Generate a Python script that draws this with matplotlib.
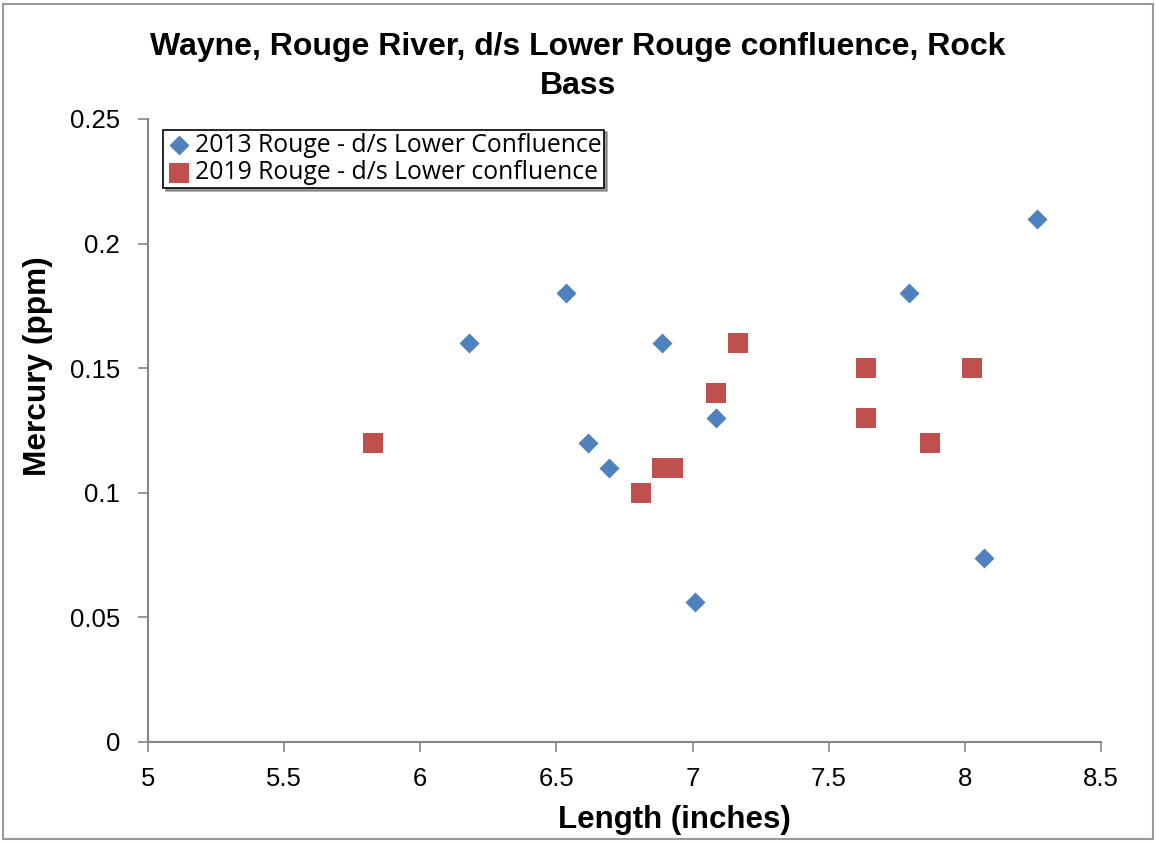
import matplotlib
matplotlib.use("Agg")
import matplotlib.pyplot as plt
from matplotlib.ticker import FuncFormatter
from matplotlib.patches import Rectangle

# data
len_2013 = [6.18, 6.535, 6.616, 6.693, 6.888, 7.009, 7.086, 7.795, 8.265, 8.07]
hg_2013 = [0.16, 0.18, 0.12, 0.11, 0.16, 0.056, 0.13, 0.18, 0.21, 0.074]

len_2019 = [5.826, 6.81, 6.888, 6.93, 7.086, 7.167, 7.637, 7.637, 7.872, 8.026]
hg_2019 = [0.12, 0.10, 0.11, 0.11, 0.14, 0.16, 0.15, 0.13, 0.12, 0.15]

label_2013 = "2013 Rouge - d/s Lower Confluence"
label_2019 = "2019 Rouge - d/s Lower confluence"
title = "Wayne, Rouge River, d/s Lower Rouge confluence, Rock\nBass"

plt.rcParams['font.family'] = ['Liberation Sans', 'DejaVu Sans']

fig = plt.figure(figsize=(11.56, 8.42), dpi=100)
ax = fig.add_axes([0.128, 0.1188, 0.8244, 0.7399])

ax.scatter(len_2013, hg_2013, marker='D', s=10.2**2, color='#4F81BD',
           linewidths=0, label=label_2013, zorder=3)
ax.scatter(len_2019, hg_2019, marker='s', s=14.4**2, color='#C0504D',
           linewidths=0, label=label_2019, zorder=3)

ax.set_xlim(5, 8.5)
ax.set_ylim(0, 0.25)
ax.set_xticks([5, 5.5, 6, 6.5, 7, 7.5, 8, 8.5])
ax.set_yticks([0, 0.05, 0.1, 0.15, 0.2, 0.25])
fmt = FuncFormatter(lambda v, p: "%g" % v)
ax.xaxis.set_major_formatter(fmt)
ax.yaxis.set_major_formatter(fmt)

for side in ['top', 'right']:
    ax.spines[side].set_visible(False)
for side in ['left', 'bottom']:
    ax.spines[side].set_color('#868686')
    ax.spines[side].set_linewidth(1.5)
ax.tick_params(direction='out', length=7, width=1.2, color='#868686',
               labelsize=18.5)
ax.tick_params(axis='x', pad=11)
ax.tick_params(axis='y', pad=13)

# Excel puts the axis titles a bit off-centre
ax.set_xlabel("Length (inches)", fontsize=22.5, fontweight='bold', labelpad=10, x=0.552)
ax.set_ylabel("Mercury (ppm)", fontsize=22.8, fontweight='bold', labelpad=12, y=0.6035)
fig.text(0.5, 0.962, title, ha='center', va='top', fontsize=23,
         fontweight='bold', linespacing=1.38)

leg = ax.legend(loc='upper left', bbox_to_anchor=(0.016, 0.983),
                prop={'family': ['Open Sans', 'DejaVu Sans'], 'size': 17.8},
                frameon=True, fancybox=False, shadow=True,
                handletextpad=0.15, handlelength=1.0, borderpad=0.12,
                labelspacing=0.1, borderaxespad=0)
leg.get_frame().set_edgecolor('black')
leg.get_frame().set_linewidth(1.2)

# outer chart border
fig.patches.append(Rectangle((0.003, 0.004), 0.994, 0.991, transform=fig.transFigure,
                             fill=False, edgecolor='#9a9a9a', linewidth=1.5))

fig.savefig("out.png", dpi=100)
